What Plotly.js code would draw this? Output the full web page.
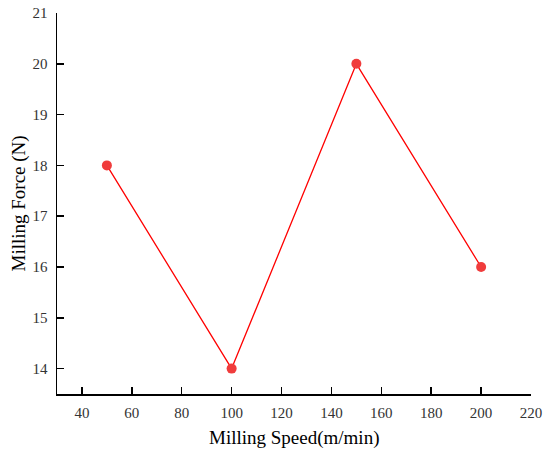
<!DOCTYPE html>
<html><head><meta charset="utf-8">
<script src="https://cdn.plot.ly/plotly-3.0.1.min.js"></script>
<style>html,body{margin:0;padding:0;background:#fff;}#chart{width:550px;height:456px;}</style>
</head><body><div id="chart"></div>
<script>
const speeds = [50, 100, 150, 200];
const forces = [18, 14, 20, 16];
const xTicks = [40, 60, 80, 100, 120, 140, 160, 180, 200, 220];
const yTicks = [14, 15, 16, 17, 18, 19, 20, 21];
const xTitle = 'Milling Speed(m/min)';
const yTitle = 'Milling Force (N)';

const trace = {
  x: speeds, y: forces, type: 'scatter', mode: 'lines+markers',
  line: {color: '#ff0000', width: 1.3},
  marker: {color: '#f03c3c', size: 10},
  hoverinfo: 'none'
};
const FAM = 'Liberation Serif';
const layout = {
  width: 550, height: 456,
  margin: {l: 57, r: 19, t: 13, b: 62},
  paper_bgcolor: '#fff', plot_bgcolor: '#fff',
  showlegend: false,
  font: {family: FAM, color: '#000', size: 15},
  xaxis: {
    range: [30, 220], tickvals: xTicks, ticktext: xTicks.map(String),
    ticks: 'inside', ticklen: 7, tickwidth: 1.5, tickcolor: '#000',
    showline: true, linecolor: '#000', linewidth: 1.5, showgrid: false, zeroline: false,
    tickfont: {family: FAM, size: 15, color: '#333'},
    ticklabelstandoff: 4
  },
  yaxis: {
    range: [13.5, 21], tickvals: yTicks, ticktext: yTicks.map(String),
    ticks: 'inside', ticklen: 7, tickwidth: 1.5, tickcolor: '#000',
    showline: true, linecolor: '#000', linewidth: 1.5, showgrid: false, zeroline: false,
    tickfont: {family: FAM, size: 15, color: '#333'},
    ticklabelstandoff: 5
  },
  annotations: [
    {text: xTitle, xref: 'paper', yref: 'paper', x: 0.5, y: 0, xanchor: 'center', yanchor: 'middle',
     yshift: -44, showarrow: false, font: {family: FAM, size: 19, color: '#000'}},
    {text: yTitle, xref: 'paper', yref: 'paper', x: 0, y: 0.5, xanchor: 'center', yanchor: 'middle',
     xshift: -39, textangle: -90, showarrow: false, font: {family: FAM, size: 19, color: '#000'}}
  ]
};
Plotly.newPlot('chart', [trace], layout, {staticPlot: true, displayModeBar: false});
</script></body></html>
